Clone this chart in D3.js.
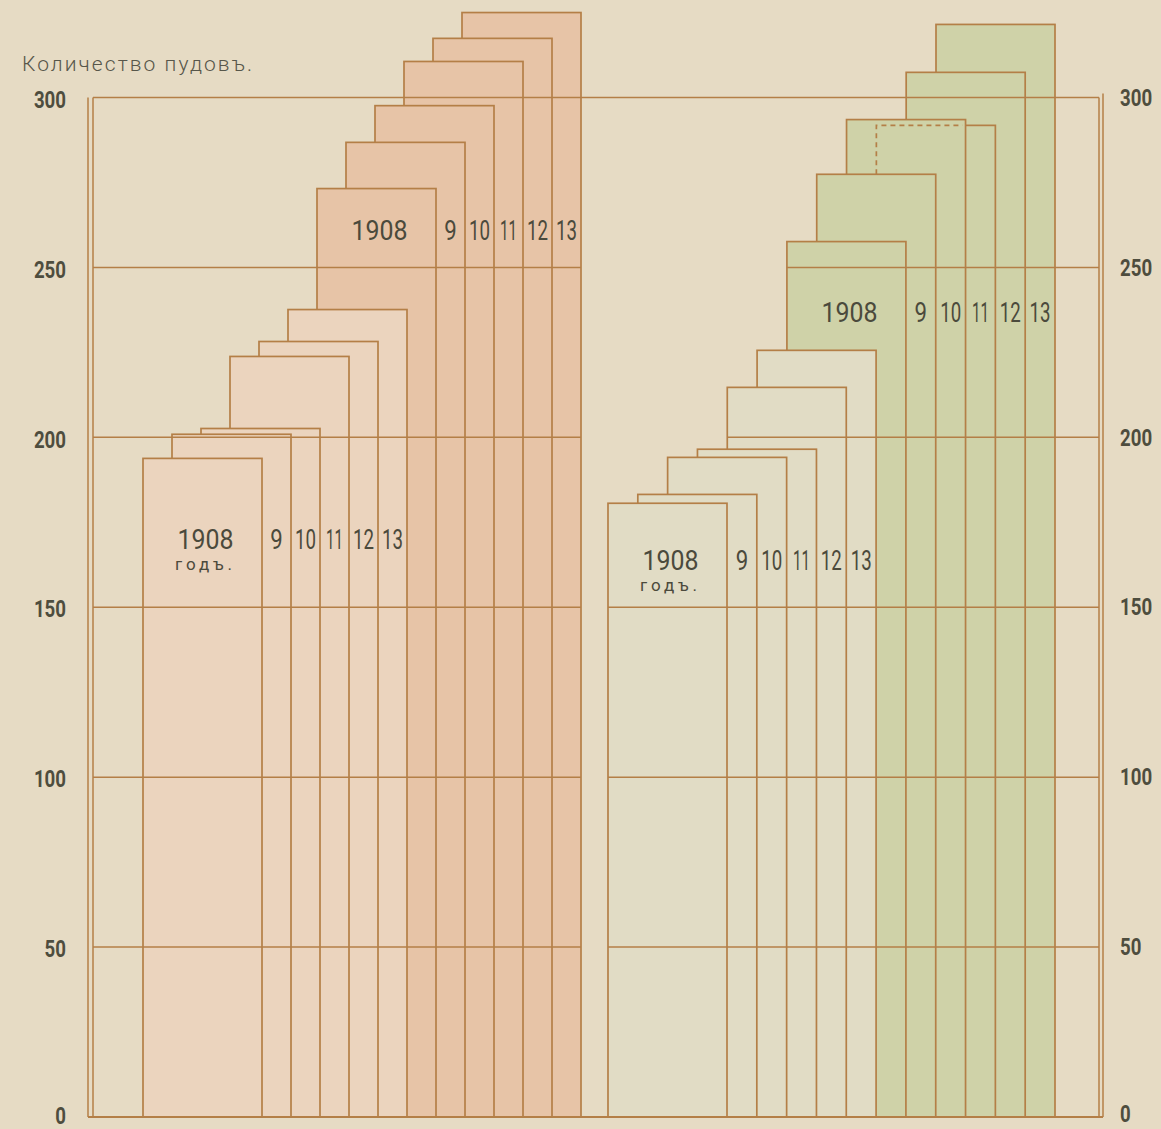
<!DOCTYPE html>
<html>
<head>
<meta charset="utf-8">
<script src="https://cdn.jsdelivr.net/npm/d3@7"></script>
<style>
  html, body { margin: 0; padding: 0; background: #e6dbc4; }
  svg { display: block; }
</style>
</head>
<body>
<div id="chart"></div>
<script>
// values in poods
const years = ['1908', '9', '10', '11', '12', '13']
const yTicks = [0, 50, 100, 150, 200, 250, 300]
const leftLower = [193.8, 200.9, 202.6, 223.8, 228.2, 237.6]
const leftUpper = [273.2, 286.8, 297.6, 310.6, 317.4, 325.0]
const rightLower = [180.6, 183.2, 194.1, 196.5, 214.7, 225.6]
const rightUpper = [257.6, 277.4, 293.5, 291.8, 307.4, 321.5]

const width = 1161
const height = 1129
const ink = '#b47f47'
const textInk = '#4b4a3c'
const barW = 119
const font = 'Roboto, "Liberation Sans", sans-serif'

// the plate's lettering is narrow: squeeze each glyph run to its measured width
const digitWidth = s => s.split('').reduce((w, c) => w + (c === '1' ? 8.5 : 12.5), 0)
const squeeze = (sel, target) => sel.each(function (d, i) {
  const t = d3.select(this)
  const x = +t.attr('x') || 0
  const k = Math.min(1, target(d, i) / this.getComputedTextLength())
  t.attr('x', 0).attr('transform', `translate(${x},0) scale(${k},1)`)
})

const svg = d3.select('#chart').append('svg')
  .attr('width', width)
  .attr('height', height)

const y = d3.scaleLinear().domain([0, 300]).range([1117, 97.5])
const xLeft = d3.scaleLinear().domain([0, 11]).range([143, 462])
const xRight = d3.scaleLinear().domain([0, 11]).range([608, 936])

const axisL = { inner: 93, outer: 88 }
const axisR = { inner: 1099, outer: 1103 }

const groups = [
  {
    x: xLeft,
    side: 'left',
    series: [
      { values: leftUpper, offset: 6, fill: '#e7c4a7', labelAt: 258 },
      { values: leftLower, offset: 0, fill: '#ebd4be', labelAt: 167, sub: true }
    ]
  },
  {
    x: xRight,
    side: 'right',
    series: [
      { values: rightUpper, offset: 6, fill: '#cfd2a8', labelAt: 234 },
      { values: rightLower, offset: 0, fill: '#e1dcc5', labelAt: 161, sub: true }
    ]
  }
]

const bars = svg.append('g')
const grid = svg.append('g')
const labels = svg.append('g')

groups.forEach(g => {
  // back series first, and in each series the last year is the furthest back
  g.series.forEach(s => {
    const items = s.values.map((v, i) => ({ v, i })).reverse()
    bars.selectAll(null)
      .data(items)
      .join('rect')
      .attr('x', d => g.x(s.offset + d.i))
      .attr('y', d => y(d.v))
      .attr('width', barW)
      .attr('height', d => y(0) - y(d.v))
      .attr('fill', s.fill)
      .attr('stroke', ink)
      .attr('stroke-width', 1.7)

    // outline of a bar hidden behind a taller one in front of it
    s.values.forEach((v, i) => {
      if (i < 1 || v >= s.values[i - 1]) return
      const x0 = g.x(s.offset + i)
      const xEnd = g.x(s.offset + i - 1) + barW
      const yBottom = i > 1 ? y(s.values[i - 2]) : y(v)
      labels.append('path')
        .attr('d', `M${x0},${yBottom}V${y(v)}H${xEnd - 3}`)
        .attr('fill', 'none')
        .attr('stroke', ink)
        .attr('stroke-width', 1.7)
        .attr('stroke-dasharray', '5,4')
    })

    const step = g.x(1) - g.x(0)
    labels.selectAll(null)
      .data(years)
      .join('text')
      .attr('x', (d, i) => i === 0
        ? g.x(s.offset) + barW / 2 + 3
        : g.x(s.offset + i) + barW - step / 2)
      .attr('y', y(s.labelAt))
      .attr('text-anchor', 'middle')
      .attr('fill', textInk)
      .style('font-family', font)
      .style('font-size', '27px')
      .text(d => d)
      .call(squeeze, (d, i) => i === 0 ? 56 : digitWidth(d))

    if (s.sub) {
      labels.append('text')
        .attr('x', g.x(s.offset) + barW / 2 + 3)
        .attr('y', y(s.labelAt) + 21)
        .attr('text-anchor', 'middle')
        .attr('fill', textInk)
        .style('font-family', font)
        .style('font-size', '17px')
        .style('letter-spacing', '4px')
        .text('годъ.')
    }
  })

  // grid lines run from the group's own axis to the furthest bar that reaches them
  const all = g.series.flatMap(s => s.values.map((v, i) => ({ v, k: s.offset + i })))
  yTicks.filter(t => t > 0 && t < 300).forEach(t => {
    const over = all.filter(d => d.v > t)
    if (!over.length) return
    const x1 = g.side === 'left'
      ? axisL.inner
      : d3.min(over, d => g.x(d.k))
    const x2 = g.side === 'left'
      ? d3.max(over, d => g.x(d.k)) + barW
      : axisR.inner
    grid.append('line')
      .attr('x1', x1).attr('x2', x2)
      .attr('y1', y(t)).attr('y2', y(t))
      .attr('stroke', ink)
      .attr('stroke-width', 1.5)
  })
})

// top line, base line and the double frame lines at both sides
grid.append('line')
  .attr('x1', axisL.inner).attr('x2', axisR.inner)
  .attr('y1', y(300)).attr('y2', y(300))
  .attr('stroke', ink).attr('stroke-width', 1.5)
grid.append('line')
  .attr('x1', axisL.outer).attr('x2', axisR.outer)
  .attr('y1', y(0)).attr('y2', y(0))
  .attr('stroke', ink).attr('stroke-width', 2.2)
;[axisL.outer, axisL.inner, axisR.inner, axisR.outer].forEach((x, i) => {
  grid.append('line')
    .attr('x1', x).attr('x2', x)
    .attr('y1', i === 3 ? y(300) - 4 : y(300)).attr('y2', y(0))
    .attr('stroke', ink).attr('stroke-width', 1.5)
})

const styleAxis = sel => {
  sel.select('.domain').remove()
  sel.selectAll('text')
    .attr('fill', '#4e4d3e')
    .attr('dy', d => d === 0 ? '0.2em' : '0.32em')
    .style('font-family', font)
    .style('font-weight', 'bold')
    .style('font-size', '24px')
    .call(squeeze, d => String(d).length * 10.7)
}

svg.append('g')
  .attr('transform', 'translate(66,2)')
  .call(d3.axisLeft(y).tickValues(yTicks).tickSize(0).tickPadding(0))
  .call(styleAxis)

svg.append('g')
  .attr('transform', 'translate(1119,0)')
  .call(d3.axisRight(y).tickValues(yTicks).tickSize(0).tickPadding(1))
  .call(styleAxis)

svg.append('text')
  .attr('x', 22)
  .attr('y', 71)
  .attr('fill', '#57564a')
  .attr('textLength', 230)
  .attr('lengthAdjust', 'spacing')
  .style('font-family', font)
  .style('font-size', '21px')
  .style('font-weight', 300)
  .text('Количество пудовъ.')
</script>
</body>
</html>
